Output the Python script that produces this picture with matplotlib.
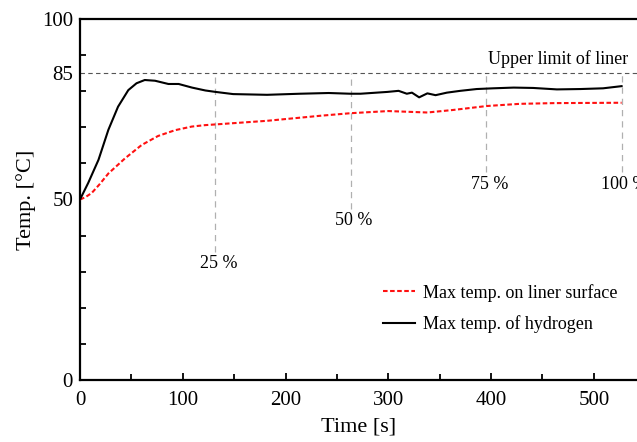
import matplotlib.pyplot as plt
from matplotlib.ticker import MultipleLocator

plt.rcParams['font.family'] = ['Liberation Serif', 'DejaVu Serif']

# Max temp. of hydrogen (black)
t_h2 = [0, 8, 18, 27.6, 37, 47, 55, 63, 73, 86, 96, 109, 122, 132, 149, 182, 214,
        242, 263, 273, 299, 310, 318, 323, 330, 338, 346, 357, 370, 386, 402, 422,
        441, 464, 487, 509, 527]
v_h2 = [50, 54.6, 61, 69.3, 75.7, 80.3, 82.2, 83.1, 82.9, 82.0, 82.0, 81.0, 80.2,
        79.8, 79.2, 79.0, 79.3, 79.5, 79.3, 79.3, 79.8, 80.1, 79.3, 79.6, 78.3, 79.4,
        78.9, 79.6, 80.1, 80.6, 80.8, 81.0, 80.9, 80.5, 80.6, 80.8, 81.4]

# Max temp. on liner surface (red dashed)
t_liner = [0, 5, 11.4, 19, 27.6, 43.8, 60, 76, 92.5, 108.7, 121.7, 132, 182, 234,
           263, 300, 338, 363, 396, 428, 461, 527]
v_liner = [50, 50.6, 51.8, 54.2, 57.2, 61.4, 65.1, 67.6, 69.2, 70.2, 70.6, 70.8,
           71.8, 73.2, 73.9, 74.5, 74.1, 74.8, 75.9, 76.5, 76.7, 76.8]

# filling progress markers
pct_t = [131.75, 263.5, 395.25, 527]
pct_bottom = [35.5, 47.5, 57.5, 57.5]
pct_labels = ['25 %', '50 %', '75 %', '100 %']

upper_limit = 85

fig = plt.figure(figsize=(6.37, 4.42), dpi=100)
ax = fig.add_axes([0.1256, 0.1403, 0.8744, 0.8167])

ax.axhline(upper_limit, color='#555555', ls=(0, (4, 3)), lw=0.8, zorder=1)
for t, b, lab in zip(pct_t, pct_bottom, pct_labels):
    ax.plot([t, t], [b, upper_limit], color='#b0b0b0', ls=(0, (5, 4)), lw=0.9, zorder=1)
    ax.text(t + 3, b - 1.0, lab, ha='center', va='top', fontsize=13)
ax.text(533, 86.3, 'Upper limit of liner', ha='right', va='bottom', fontsize=13)

ax.plot(t_liner, v_liner, color='#ff1010', ls=(0, (2.2, 1.2)), lw=1.5,
        label='Max temp. on liner surface', zorder=3)
ax.plot(t_h2, v_h2, color='black', lw=1.5, label='Max temp. of hydrogen', zorder=3)

ax.set_xlim(0, 542)
ax.set_ylim(0, 100)
ax.set_yticks([0, 50, 85, 100])
ax.yaxis.set_minor_locator(MultipleLocator(10))
ax.xaxis.set_major_locator(MultipleLocator(100))
ax.xaxis.set_minor_locator(MultipleLocator(50))
ax.tick_params(which='both', direction='in', labelsize=15, width=1.3)
ax.tick_params(which='major', length=5)
ax.tick_params(which='minor', length=4)
ax.tick_params(axis='y', which='major', length=0, pad=5)
ax.tick_params(axis='x', pad=8)

for s in ['left', 'bottom', 'top']:
    ax.spines[s].set_linewidth(1.6)
ax.spines['right'].set_visible(False)

ax.set_xlabel('Time [s]', fontsize=16, labelpad=5)
ax.set_ylabel('Temp. [°C]', fontsize=16, labelpad=4)

ax.legend(loc='lower right', bbox_to_anchor=(0.995, 0.085), frameon=False, fontsize=13,
          handlelength=1.8, handletextpad=0.45, labelspacing=0.75)

fig.savefig('out.png', dpi=100)
